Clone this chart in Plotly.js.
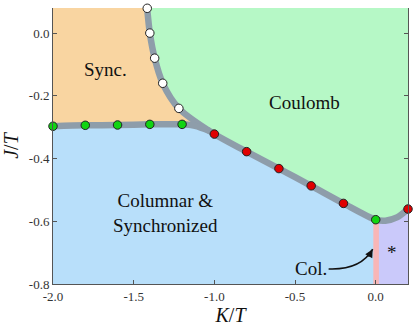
<!DOCTYPE html>
<html>
<head>
<meta charset="utf-8">
<script src="https://cdn.plot.ly/plotly-3.0.1.min.js"></script>
<style>
  html, body { margin: 0; padding: 0; background: #fff; }
  #chart { width: 416px; height: 329px; }
</style>
</head>
<body>
<div id="chart"></div>
<script>
"use strict";

// simulated transition points
const syncCoulK = [-1.416, -1.40, -1.37, -1.32, -1.22];
const syncCoulJ = [0.079, 0.0, -0.08, -0.16, -0.24];
const syncColK = [-2.0, -1.8, -1.6, -1.4, -1.2];
const syncColJ = [-0.297, -0.294, -0.293, -0.291, -0.291];
const coulColK = [-1.0, -0.8, -0.6, -0.4, -0.2, 0.2];
const coulColJ = [-0.322, -0.378, -0.432, -0.487, -0.543, -0.561];
const tripleK = [0.0];
const tripleJ = [-0.595];

// guide-to-the-eye boundaries
const mainK = [-1.42, -1.40, -1.37, -1.32, -1.22, -1.0, -0.8, -0.6, -0.4, -0.2, 0.0, 0.06, 0.135, 0.2];
const mainJ = [0.10, 0.0, -0.08, -0.16, -0.24, -0.322, -0.378, -0.432, -0.487, -0.543, -0.595, -0.598, -0.587, -0.561];
const flatK = [-2.0, -1.8, -1.6, -1.4, -1.2, -1.12, -1.03];
const flatJ = [-0.297, -0.294, -0.293, -0.291, -0.291, -0.296, -0.312];
const colStripK = [-0.015, 0.02];
const starK = [0.02, 0.06, 0.135, 0.2];
const starJ = [-0.597, -0.598, -0.587, -0.561];

const xTicks = [-2.0, -1.5, -1.0, -0.5, 0.0];
const xTickText = ["-2.0", "-1.5", "-1.0", "-0.5", "0.0"];
const yTicks = [-0.8, -0.6, -0.4, -0.2, 0.0];
const yTickText = ["-0.8", "-0.6", "-0.4", "-0.2", "0.0"];

const xRange = [-2.0, 0.2];
const yRange = [-0.8, 0.08];

// label anchors
const labels = [
    {text: "Sync.", k: -1.677, j: -0.117},
    {text: "Coulomb", k: -0.441, j: -0.222},
    {text: "Columnar &<br>Synchronized", k: -1.304, j: -0.573},
    {text: "*", k: 0.099, j: -0.70},
    {text: "Col.", k: -0.404, j: -0.752}
];
const arrowK = [-0.292, -0.093, -0.019];
const arrowJ = [-0.752, -0.756, -0.689];

const SERIF = "Times New Roman, Liberation Serif, DejaVu Serif, serif";
const GRAY = "#8e9daa";

function polygon(xs, ys, color) {
    return {
        x: xs, y: ys, type: "scatter", mode: "lines",
        fill: "toself", fillcolor: color,
        line: {width: 0, color: color},
        hoverinfo: "skip", showlegend: false
    };
}

function dots(xs, ys, color) {
    return {
        x: xs, y: ys, type: "scatter", mode: "markers",
        marker: {size: 8.5, color: color, line: {color: "#222", width: 1}},
        cliponaxis: false, showlegend: false
    };
}

function main() {
    let top = 0.12, right = 0.25, bottom = -0.85, left = -2.05;

    let sync = polygon(
        [left].concat(mainK.slice(0, 5), flatK.slice().reverse(), [left]),
        [top].concat(mainJ.slice(0, 5), flatJ.slice().reverse(), [flatJ[0]]),
        "#f9d5a1");
    let coul = polygon(
        mainK.concat([right, right]),
        mainJ.concat([mainJ[mainJ.length - 1], top]),
        "#b6f8c6");
    let col = polygon(
        [colStripK[0], colStripK[0], colStripK[1], colStripK[1]],
        [bottom, tripleJ[0], tripleJ[0], bottom],
        "#f8b6b6");
    let star = polygon(
        starK.concat([right, right, starK[0]]),
        starJ.concat([starJ[starJ.length - 1], bottom, bottom]),
        "#cac9fa");

    let mainLine = {
        x: mainK, y: mainJ, type: "scatter", mode: "lines",
        line: {color: GRAY, width: 6.5, shape: "spline", smoothing: 0.8},
        showlegend: false
    };
    let flatLine = {
        x: flatK, y: flatJ, type: "scatter", mode: "lines",
        line: {color: GRAY, width: 6.5, shape: "spline", smoothing: 0.8},
        showlegend: false
    };

    let traces = [
        sync, coul, col, star, mainLine, flatLine,
        dots(syncCoulK, syncCoulJ, "#ffffff"),
        dots(syncColK, syncColJ, "#11d411"),
        dots(coulColK, coulColJ, "#e00000"),
        dots(tripleK, tripleJ, "#11d411")
    ];

    let annotations = labels.map(l => ({
        x: l.k, y: l.j, xref: "x", yref: "y", text: l.text,
        showarrow: false, font: {family: SERIF, size: 19, color: "#111"}
    }));
    let n = arrowK.length;
    annotations.push({
        x: arrowK[n - 1], y: arrowJ[n - 1], xref: "x", yref: "y",
        ax: -5, ay: 9, text: "", showarrow: true,
        arrowhead: 2, arrowsize: 1, arrowwidth: 1.6, arrowcolor: "#111"
    });

    let path = "M " + arrowK[0] + "," + arrowJ[0] +
        " Q " + arrowK[1] + "," + arrowJ[1] + " " + arrowK[2] + "," + arrowJ[2];

    let axisCommon = {
        showgrid: false, zeroline: false,
        showline: true, linecolor: "#555", linewidth: 1,
        ticks: "inside", ticklen: 4, tickcolor: "#555",
        tickfont: {family: SERIF, size: 13, color: "#333"}
    };

    let layout = {
        width: 416, height: 329,
        margin: {l: 53, r: 8, t: 8, b: 45},
        paper_bgcolor: "#ffffff",
        plot_bgcolor: "#b8dffa",
        showlegend: false,
        font: {family: SERIF},
        xaxis: Object.assign({}, axisCommon, {
            range: xRange, tickvals: xTicks, ticktext: xTickText,
            mirror: false,
            title: {text: "<i>K</i>/<i>T</i>", font: {family: SERIF, size: 20, color: "#111"}, standoff: 2}
        }),
        yaxis: Object.assign({}, axisCommon, {
            range: yRange, tickvals: yTicks, ticktext: yTickText,
            mirror: "ticks",
            title: {text: "<i>J</i>/<i>T</i>", font: {family: SERIF, size: 20, color: "#111"}, standoff: 4}
        }),
        annotations: annotations,
        shapes: [{
            type: "path", xref: "x", yref: "y", path: path,
            line: {color: "#111", width: 1.6}
        }]
    };

    Plotly.newPlot("chart", traces, layout, {displayModeBar: false, staticPlot: true});
}

document.addEventListener("DOMContentLoaded", event => main());
</script>
</body>
</html>
